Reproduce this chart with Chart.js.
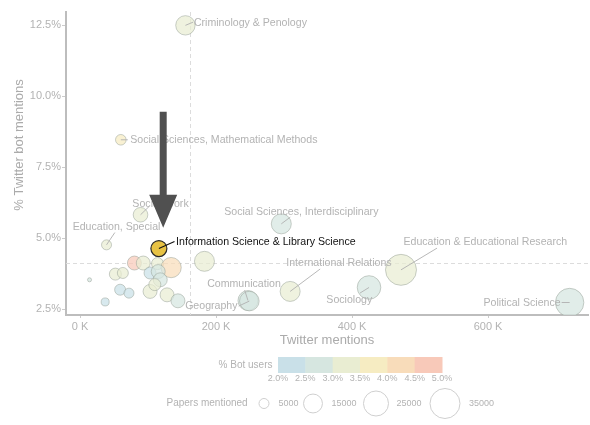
<!DOCTYPE html>
<html>
<head>
<meta charset="utf-8">
<script src="https://cdn.jsdelivr.net/npm/chart.js@4/dist/chart.umd.min.js"></script>
<style>
  html, body { margin: 0; padding: 0; background: #ffffff; }
  #wrap { width: 590px; height: 425px; position: relative; }
</style>
</head>
<body>
<div id="wrap"><canvas id="c"></canvas></div>
<script>
// ---------------- data ----------------
const categories = [
  'Criminology & Penology', 'Social Sciences, Mathematical Methods', 'Social Work', 'Education, Special',
  'Social Sciences, Interdisciplinary', 'Education & Educational Research', 'Sociology', 'Political Science',
  'International Relations', 'Communication', 'Geography',
  '', '', '', '', '', '', '', '', '', '', '', '', '', '', '', '', '', '',
  'Information Science & Library Science'
];
const twitterMentions = [
  155000, 60000, 89000, 39000,
  296000, 472000, 425000, 720000,
  309000, 247000, 249000,
  80000, 93000, 114000, 134000, 183000, 52000, 63000, 103000, 115000, 118000, 14000, 59000, 72000, 103000, 110000, 128000, 144000, 37000,
  116000
];
const botMentionPct = [
  12.49, 8.46, 5.82, 4.76,
  5.50, 3.88, 3.26, 2.73,
  3.12, 2.80, 2.78,
  4.12, 4.12, 4.10, 3.96, 4.18, 3.73, 3.77, 3.77, 3.82, 3.53, 3.53, 3.18, 3.06, 3.12, 3.36, 3.00, 2.79, 2.75,
  4.63
];
const papersMentioned = [
  15700, 5500, 9500, 5000,
  16600, 37200, 22400, 31600,
  16600, 16600, 16000,
  8800, 8800, 6800, 17000, 16600, 6800, 5850, 6800, 8800, 8800, 1300, 5850, 5000, 8800, 6800, 8800, 8800, 3500,
  11150
];
const botUsersPct = [
  3.2, 3.7, 3.2, 3.2,
  2.7, 3.2, 2.6, 2.7,
  3.3, 2.7, 2.7,
  4.8, 3.4, 3.3, 4.2, 3.2, 3.4, 3.4, 2.2, 2.7, 2.6, 2.8, 2.2, 2.3, 3.4, 3.3, 3.2, 2.6, 2.4,
  3.9
];
const highlighted = 'Information Science & Library Science';
const xTicks = [0, 200000, 400000, 600000];
const yTicks = [2.5, 5.0, 7.5, 10.0, 12.5];
const refX = 161800;   // dashed reference lines
const refY = 4.12;
const botLegendTicks = [2.0, 2.5, 3.0, 3.5, 4.0, 4.5, 5.0];
const paperLegendTicks = [5000, 15000, 25000, 35000];

// ---------------- styles ----------------
const FONT = '"Liberation Sans", Arial, sans-serif';
const binColors = ['#c9e0e8', '#d6e6e0', '#e9edd2', '#f6ecc2', '#f8dcba', '#f8c9b9'];
const TXT = '#b3b3b3';

function radiusFor(p) { return -1.07 + 0.0859 * Math.sqrt(p); }
function binColor(v) {
  let i = Math.floor((v - 2.0) / 0.5 + 1e-9);
  return binColors[Math.max(0, Math.min(5, i))];
}
function rgba(hex, a) {
  const n = parseInt(hex.slice(1), 16);
  return `rgba(${(n >> 16) & 255},${(n >> 8) & 255},${n & 255},${a})`;
}

// label placement (pixel offsets from bubble centre: text centre dx,dy; leader end lx,ly)
const labelPlacement = {
  'Criminology & Penology': [65, -2.4, 7.7, -3.2],
  'Social Sciences, Mathematical Methods': [103, 0, 7, 0],
  'Social Work': [20, -11, 8.6, -8.3],
  'Education, Special': [10, -17.3, 8.3, -12.3],
  'Information Science & Library Science': [107, -6.4, 15.6, -7],
  'Social Sciences, Interdisciplinary': [20, -11.7, 9, -6.7],
  'Education & Educational Research': [84.3, -27.7, 36, -21.7],
  'International Relations': [48.8, -28, 30, -22.4],
  'Sociology': [-19.7, 12.3, -9, 5.6],
  'Political Science': [-47.6, 0.6, -8, 0],
  'Communication': [-4, -16, -3.3, -10.3],
  'Geography': [-38, 4.7, -10.7, 5]
};

// ---------------- datasets ----------------
const normalPts = [], normalBg = [], hiPts = [];
categories.forEach((name, i) => {
  const pt = { x: twitterMentions[i], y: botMentionPct[i], r: radiusFor(papersMentioned[i]), name };
  if (name === highlighted) hiPts.push(pt);
  else { normalPts.push(pt); normalBg.push(rgba(binColor(botUsersPct[i]), 0.72)); }
});

const refPlugin = {
  id: 'refs',
  beforeDatasetsDraw(chart) {
    const { ctx, chartArea: a, scales: { x, y } } = chart;
    ctx.save();
    ctx.strokeStyle = '#dcdcdc';
    ctx.lineWidth = 1;
    ctx.setLineDash([4, 3]);
    const px = Math.round(x.getPixelForValue(refX)) + 0.5;
    const py = Math.round(y.getPixelForValue(refY)) + 0.5;
    ctx.beginPath(); ctx.moveTo(px, a.top); ctx.lineTo(px, a.bottom); ctx.stroke();
    ctx.beginPath(); ctx.moveTo(a.left, py); ctx.lineTo(a.right, py); ctx.stroke();
    ctx.restore();
  }
};

const annoPlugin = {
  id: 'anno',
  afterDatasetsDraw(chart) {
    const { ctx, scales: { x, y } } = chart;
    ctx.save();
    ctx.font = '10.6px ' + FONT;
    ctx.textAlign = 'center';
    ctx.textBaseline = 'middle';
    let hiPix = null;
    categories.forEach((name, i) => {
      const cx = x.getPixelForValue(twitterMentions[i]);
      const cy = y.getPixelForValue(botMentionPct[i]);
      if (name === highlighted) hiPix = [cx, cy, radiusFor(papersMentioned[i])];
      const pl = labelPlacement[name];
      if (!pl) return;
      const isHi = name === highlighted;
      ctx.strokeStyle = isHi ? '#111' : '#b0b0b0';
      ctx.lineWidth = isHi ? 1.1 : 0.9;
      ctx.beginPath(); ctx.moveTo(cx, cy); ctx.lineTo(cx + pl[2], cy + pl[3]); ctx.stroke();
      ctx.fillStyle = isHi ? '#111' : TXT;
      ctx.fillText(name, cx + pl[0], cy + pl[1]);
    });
    // highlight arrow
    if (hiPix) {
      const tx = hiPix[0] + 4.3, ty = hiPix[1] - 20.7;
      ctx.fillStyle = '#505050';
      ctx.beginPath();
      ctx.moveTo(tx, ty);
      ctx.lineTo(tx - 14, ty - 33);
      ctx.lineTo(tx - 3.5, ty - 33);
      ctx.lineTo(tx - 3.5, ty - 116);
      ctx.lineTo(tx + 3.5, ty - 116);
      ctx.lineTo(tx + 3.5, ty - 33);
      ctx.lineTo(tx + 14, ty - 33);
      ctx.closePath();
      ctx.fill();
    }
    ctx.restore();
  },
  afterDraw(chart) {
    const { ctx, chartArea: a } = chart;
    ctx.save();
    // axis titles
    ctx.fillStyle = '#ababab';
    ctx.font = '13px ' + FONT;
    ctx.textAlign = 'center';
    ctx.textBaseline = 'middle';
    ctx.fillText('Twitter mentions', (a.left + a.right) / 2, 340);
    ctx.save();
    ctx.translate(19, 145);
    ctx.rotate(-Math.PI / 2);
    ctx.fillText('% Twitter bot mentions', 0, 0);
    ctx.restore();

    // colour legend
    ctx.font = '10px ' + FONT;
    ctx.textAlign = 'right';
    ctx.fillStyle = TXT;
    ctx.fillText('% Bot users', 272.5, 365.5);
    const barL = 278, barR = 442, barT = 357, barB = 373;
    const segW = (barR - barL) / binColors.length;
    binColors.forEach((c, i) => {
      ctx.fillStyle = c;
      ctx.fillRect(barL + i * segW, barT, segW + 0.5, barB - barT);
    });
    ctx.font = '9px ' + FONT;
    ctx.textAlign = 'center';
    ctx.fillStyle = TXT;
    botLegendTicks.forEach((v, i) => {
      const px = barL + (barR - barL) * (v - botLegendTicks[0]) / (botLegendTicks[botLegendTicks.length - 1] - botLegendTicks[0]);
      ctx.fillText(v.toFixed(1) + '%', px, 379);
    });

    // size legend
    ctx.font = '10px ' + FONT;
    ctx.textAlign = 'left';
    ctx.fillText('Papers mentioned', 166.5, 403.5);
    const circX = [264, 313, 376, 445];
    const txtX = [278.5, 331.5, 396.5, 469];
    ctx.strokeStyle = '#cfcfcf';
    ctx.lineWidth = 1;
    paperLegendTicks.forEach((p, i) => {
      ctx.beginPath();
      ctx.arc(circX[i], 403.5, radiusFor(p), 0, Math.PI * 2);
      ctx.stroke();
      ctx.font = '9px ' + FONT;
      ctx.fillStyle = TXT;
      ctx.fillText(String(p), txtX[i], 403.5);
    });
    ctx.restore();
  }
};

new Chart(document.getElementById('c'), {
  type: 'bubble',
  data: {
    datasets: [
      { data: normalPts, backgroundColor: normalBg, borderColor: 'rgba(150,160,150,0.5)', borderWidth: 1 },
      { data: hiPts, backgroundColor: '#e7c244', borderColor: '#2a2a2a', borderWidth: 1.2 }
    ]
  },
  options: {
    responsive: true,
    maintainAspectRatio: false,
    animation: false,
    devicePixelRatio: 1,
    events: [],
    layout: { autoPadding: false, padding: { top: 12, right: 2, left: 0, bottom: 0 } },
    plugins: { legend: { display: false }, tooltip: { enabled: false } },
    scales: {
      x: {
        type: 'linear',
        min: -20600, max: 747000,
        afterFit(s) { s.height = 110; },
        afterBuildTicks(s) { s.ticks = xTicks.map(v => ({ value: v })); },
        grid: { drawOnChartArea: false, tickLength: 3, color: '#cccccc' },
        border: { color: '#bdbdbd', width: 2 },
        ticks: { padding: 2, color: TXT, font: { family: FONT, size: 11 }, callback: v => (v / 1000) + ' K' }
      },
      y: {
        type: 'linear',
        min: 2.29, max: 12.96,
        afterFit(s) { s.width = 66; },
        afterBuildTicks(s) { s.ticks = yTicks.map(v => ({ value: v })); },
        grid: { drawOnChartArea: false, tickLength: 4, color: '#cccccc' },
        border: { color: '#bdbdbd', width: 2 },
        ticks: { padding: 1, color: TXT, font: { family: FONT, size: 11 }, callback: v => v.toFixed(1) + '%' }
      }
    }
  },
  plugins: [refPlugin, annoPlugin]
});
</script>
</body>
</html>
